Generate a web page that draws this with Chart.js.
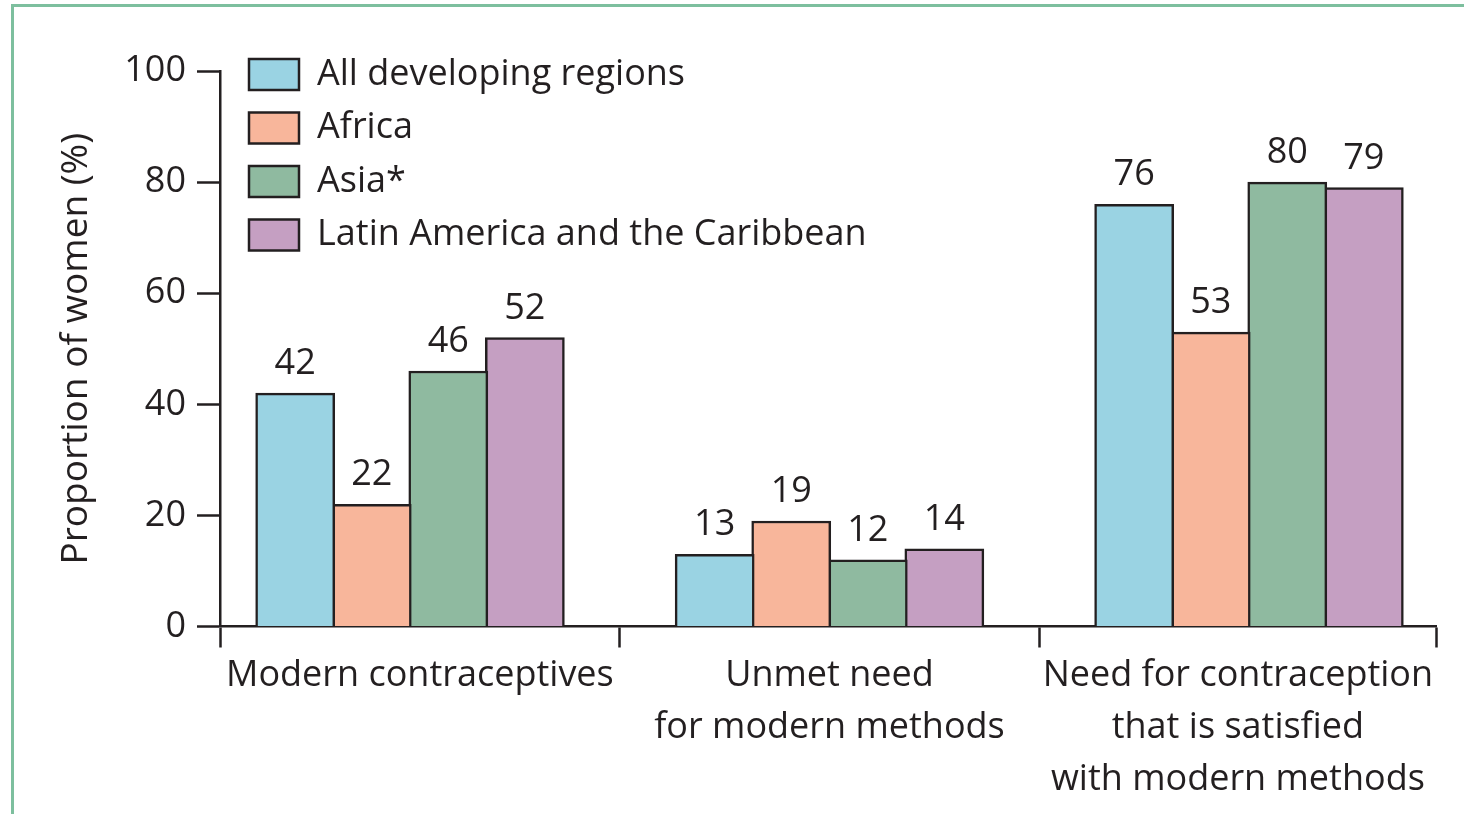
<!DOCTYPE html>
<html>
<head>
<meta charset="utf-8">
<script src="https://cdn.jsdelivr.net/npm/chart.js@4.4.1/dist/chart.umd.min.js"></script>
<style>
html, body { margin: 0; padding: 0; background: #ffffff; }
#wrap { position: relative; width: 1464px; height: 814px; overflow: hidden; }
#frame { position: absolute; left: 11px; top: 4px; width: 1500px; height: 900px;
         border-top: 3px solid #7dbf9e; border-left: 3px solid #7dbf9e; }
#c { position: absolute; left: 0; top: 0; }
</style>
</head>
<body>
<div id="wrap"><div id="frame"></div><canvas id="c" width="1464" height="814"></canvas></div>
<script>
// ---- data ----
const categories = [
  ["Modern contraceptives"],
  ["Unmet need", "for modern methods"],
  ["Need for contraception", "that is satisfied", "with modern methods"]
];
const seriesNames = ["All developing regions", "Africa", "Asia*", "Latin America and the Caribbean"];
const allDeveloping = [42, 13, 76];
const africa        = [22, 19, 53];
const asia          = [46, 12, 80];
const latinAmerica  = [52, 14, 79];
const yTicks = [0, 20, 40, 60, 80, 100];
const yTitle = "Proportion of women (%)";

// ---- style ----
const ink = "#231f20";
const fontFamily = "'Open Sans', 'Noto Sans', sans-serif";
const fontSize = 36;
const seriesColors = ["#9ad3e3", "#f8b69b", "#8fbaa0", "#c59fc2"];
const seriesValues = [allDeveloping, africa, asia, latinAmerica];

const datasets = seriesNames.map((name, s) => ({
  label: name,
  data: seriesValues[s].map((v, i) => ({ x: i, y: v })),
  backgroundColor: seriesColors[s],
  borderColor: ink,
  borderWidth: 2.5,
  borderSkipped: "start",
  barThickness: "flex",
  categoryPercentage: 0.73,
  barPercentage: 1.033
}));

const valueLabels = {
  id: "valueLabels",
  afterDatasetsDraw(chart) {
    const ctx = chart.ctx;
    ctx.save();
    ctx.font = fontSize + "px " + fontFamily;
    ctx.fillStyle = ink;
    ctx.textAlign = "center";
    ctx.textBaseline = "alphabetic";
    chart.data.datasets.forEach((ds, di) => {
      chart.getDatasetMeta(di).data.forEach((bar, i) => {
        ctx.fillText(String(ds.data[i].y), bar.x, bar.y - 19);
      });
    });
    ctx.restore();
  }
};

const legendPlace = {
  id: "legendPlace",
  afterLayout(chart) {
    const lg = chart.legend;
    const a = chart.chartArea;
    lg.left = a.left + 11.5;
    lg.top = a.top - 32;
    lg.right = lg.left + lg.width;
    lg.bottom = lg.top + lg.height;
  }
};

new Chart(document.getElementById("c"), {
  type: "bar",
  data: { datasets },
  plugins: [valueLabels, legendPlace],
  options: {
    responsive: false,
    animation: false,
    devicePixelRatio: 1,
    layout: { padding: { left: 0, top: 71, right: 27.5, bottom: 0 } },
    plugins: {
      tooltip: { enabled: false },
      legend: {
        position: "chartArea",
        align: "start",
        labels: {
          boxWidth: 50,
          boxHeight: 31,
          padding: 17.5,
          color: ink,
          font: { family: fontFamily, size: fontSize },
          generateLabels: (chart) =>
            Chart.defaults.plugins.legend.labels.generateLabels(chart).map(l => Object.assign(l, { lineWidth: 2.5 }))
        }
      }
    },
    scales: {
      x: {
        type: "linear",
        offset: false,
        min: -0.453,
        max: 2.447,
        afterBuildTicks: (s) => {
          const bounds = [s.min];
          for (let i = 0; i < categories.length - 1; i++) bounds.push(i + 0.5);
          bounds.push(s.max);
          const mids = bounds.slice(1).map((b, i) => (b + bounds[i]) / 2);
          s.ticks = bounds.concat(mids).sort((a, b) => a - b).map(v => ({ value: v }));
        },
        afterFit: (s) => { s.height = 187.5; },
        grid: {
          display: true,
          offset: false,
          drawOnChartArea: false,
          drawTicks: true,
          tickLength: 21,
          tickWidth: 2.5,
          tickColor: (ctx) => (ctx.index % 2 === 0 ? ink : "rgba(0,0,0,0)")
        },
        border: { display: true, color: ink, width: 2.5 },
        ticks: {
          autoSkip: false,
          maxRotation: 0,
          minRotation: 0,
          padding: 2,
          color: ink,
          font: { family: fontFamily, size: fontSize, lineHeight: 52 / 36 },
          callback: (value, index) => (index % 2 === 1 ? categories[(index - 1) / 2] : "")
        }
      },
      y: {
        min: 0,
        max: 100,
        afterBuildTicks: (s) => { s.ticks = yTicks.map(v => ({ value: v })); },
        afterFit: (s) => { s.width = 220; },
        grid: {
          display: true,
          drawOnChartArea: false,
          drawTicks: true,
          tickLength: 23,
          tickWidth: 2.5,
          tickColor: ink
        },
        border: { display: true, color: ink, width: 2.5 },
        ticks: {
          padding: 11,
          color: ink,
          font: { family: fontFamily, size: fontSize }
        },
        title: {
          display: true,
          text: yTitle,
          color: ink,
          font: { family: fontFamily, size: 37 },
          padding: { top: 54, bottom: 0 }
        }
      }
    }
  }
});
</script>
</body>
</html>
